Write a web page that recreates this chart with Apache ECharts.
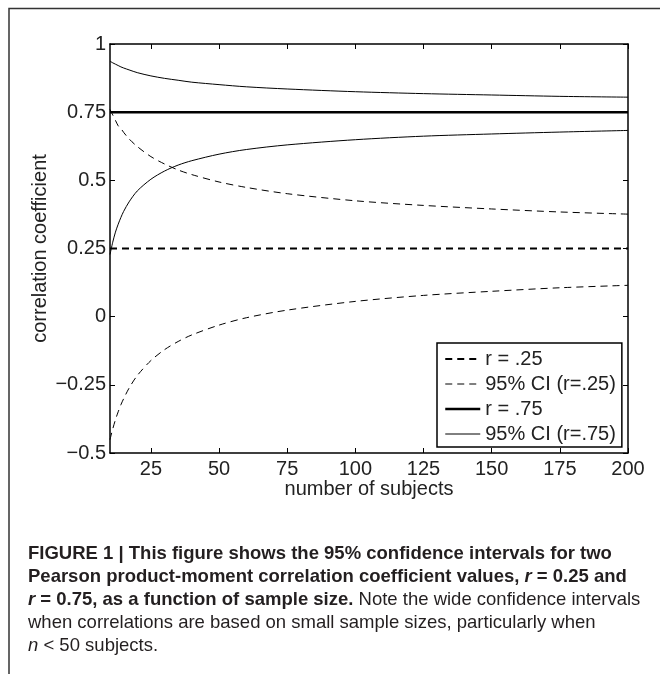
<!DOCTYPE html>
<html>
<head>
<meta charset="utf-8">
<script src="https://cdn.jsdelivr.net/npm/echarts@6/dist/echarts.min.js"></script>
<style>
  html, body { margin: 0; padding: 0; background: #fff; }
  #main { width: 660px; height: 674px; }
</style>
</head>
<body>
<div id="main"></div>
<script>
// number of subjects
var nSubjects = [10, 11, 12, 13, 14, 15, 17, 20, 25, 30, 35, 40, 50, 60, 75, 100, 125, 150, 175, 200];
// 95% CI bounds for r = .25
var ci25Upper = [0.76, 0.74, 0.72, 0.70, 0.69, 0.676, 0.652, 0.624, 0.587, 0.56, 0.538, 0.521, 0.494, 0.474, 0.451, 0.425, 0.408, 0.395, 0.384, 0.376];
var ci25Lower = [-0.451, -0.412, -0.378, -0.349, -0.323, -0.301, -0.262, -0.216, -0.161, -0.121, -0.091, -0.067, -0.031, -0.004, 0.024, 0.056, 0.078, 0.093, 0.106, 0.115];
// 95% CI bounds for r = .75
var ci75Upper = [0.937, 0.931, 0.926, 0.921, 0.916, 0.912, 0.905, 0.895, 0.883, 0.874, 0.867, 0.86, 0.851, 0.843, 0.835, 0.825, 0.818, 0.813, 0.808, 0.805];
var ci75Lower = [0.228, 0.273, 0.31, 0.339, 0.364, 0.386, 0.421, 0.461, 0.504, 0.534, 0.556, 0.572, 0.596, 0.613, 0.63, 0.649, 0.662, 0.67, 0.677, 0.683];
var rValues = [0.25, 0.75];
var xTicks = [25, 50, 75, 100, 125, 150, 175, 200];
var legendNames = ['r = .25', '95% CI (r=.25)', 'r = .75', '95% CI (r=.75)'];

function pairs(ys) {
    return nSubjects.map(function (n, i) { return [n, ys[i]]; });
}
function flat(r) {
    return [[nSubjects[0], r], [nSubjects[nSubjects.length - 1], r]];
}

var chart = echarts.init(document.getElementById('main'));

var fontFam = 'Liberation Sans, Arial, Helvetica, sans-serif';
var txt = '#222';
var capCol = '#231f20';
var capSize = 18.5;

var axisCommon = {
    type: 'value',
    axisLine: { show: true, onZero: false, lineStyle: { color: '#000', width: 1.5 } },
    splitLine: { show: false }
};

function capStyle(extra) {
    return Object.assign({ fontSize: capSize, fontFamily: fontFam, fill: capCol }, extra || {});
}
var capRich = {
    b: capStyle({ fontWeight: 'bold' }),
    bi: capStyle({ fontWeight: 'bold', fontStyle: 'italic' }),
    i: capStyle({ fontStyle: 'italic' }),
    n: capStyle()
};

option = {
    animation: false,
    backgroundColor: '#fff',
    color: ['#000'],
    textStyle: { fontFamily: fontFam },
    grid: { left: 110, top: 44, right: 32, bottom: 221 },
    legend: {
        data: legendNames,
        orient: 'vertical',
        left: 437,
        top: 343,
        itemWidth: 35,
        itemHeight: 14,
        itemGap: 5,
        padding: [6, 6, 3, 7],
        borderColor: '#000',
        borderWidth: 1.5,
        backgroundColor: '#fff',
        itemStyle: { opacity: 0 },
        lineStyle: { width: 'inherit' },
        textStyle: { fontSize: 20, color: txt, fontFamily: fontFam }
    },
    xAxis: [
        Object.assign({}, axisCommon, {
            min: 10, max: 200, position: 'bottom',
            axisTick: { inside: true, length: 5, customValues: xTicks, lineStyle: { color: '#000' } },
            axisLabel: { customValues: xTicks, fontSize: 20, color: txt, margin: 6 },
            name: 'number of subjects',
            nameLocation: 'middle',
            nameGap: 26,
            nameMoveOverlap: false,
            nameTextStyle: { fontSize: 20, color: txt }
        }),
        Object.assign({}, axisCommon, {
            min: 10, max: 200, position: 'top',
            axisTick: { inside: true, length: 5, customValues: xTicks, lineStyle: { color: '#000' } },
            axisLabel: { show: false }
        })
    ],
    yAxis: [
        Object.assign({}, axisCommon, {
            min: -0.5, max: 1, interval: 0.25, position: 'left',
            axisTick: { inside: true, length: 5, lineStyle: { color: '#000' } },
            axisLabel: {
                fontSize: 20, color: txt, margin: 4,
                formatter: function (v) { return String(v).replace('-', '\u2212'); }
            },
            name: 'correlation coefficient',
            nameLocation: 'middle',
            nameRotate: 90,
            nameGap: 60,
            nameMoveOverlap: false,
            nameTextStyle: { fontSize: 20, color: txt }
        }),
        Object.assign({}, axisCommon, {
            min: -0.5, max: 1, interval: 0.25, position: 'right',
            axisTick: { inside: true, length: 5, lineStyle: { color: '#000' } },
            axisLabel: { show: false }
        })
    ],
    series: [
        {
            name: legendNames[0], type: 'line', symbol: 'none', data: flat(rValues[0]),
            lineStyle: { color: '#000', width: 2.2, type: [7, 5] }, z: 3
        },
        {
            name: legendNames[1], type: 'line', symbol: 'none', smooth: 0.3, data: pairs(ci25Upper),
            lineStyle: { color: '#000', width: 1, type: [7, 5] }
        },
        {
            name: legendNames[1], type: 'line', symbol: 'none', smooth: 0.3, data: pairs(ci25Lower),
            lineStyle: { color: '#000', width: 1, type: [7, 5] }
        },
        {
            name: legendNames[2], type: 'line', symbol: 'none', data: flat(rValues[1]),
            lineStyle: { color: '#000', width: 2.5, type: 'solid' }, z: 3
        },
        {
            name: legendNames[3], type: 'line', symbol: 'none', smooth: 0.3, data: pairs(ci75Upper),
            lineStyle: { color: '#000', width: 1, type: 'solid' }
        },
        {
            name: legendNames[3], type: 'line', symbol: 'none', smooth: 0.3, data: pairs(ci75Lower),
            lineStyle: { color: '#000', width: 1, type: 'solid' }
        }
    ],
    graphic: [
        // figure frame (top and left edge)
        { type: 'polyline', shape: { points: [[9, 674], [9, 8.5], [660, 8.5]] }, style: { stroke: '#333', lineWidth: 1.5, fill: null }, silent: true },
        {
            type: 'group', left: 28, top: 544, silent: true,
            children: [
                { type: 'text', x: 0, y: 0, style: {
                    text: '{b|FIGURE 1 | This figure shows the 95% confidence intervals for two}', rich: capRich } },
                { type: 'text', x: 0, y: 23, style: {
                    text: '{b|Pearson product-moment correlation coefficient values, }{bi|r}{b| = 0.25 and}', rich: capRich } },
                { type: 'text', x: 0, y: 46, style: {
                    text: '{bi|r}{b| = 0.75, as a function of sample size.}{n| Note the wide confidence intervals}', rich: capRich } },
                { type: 'text', x: 0, y: 69, style: {
                    text: '{n|when correlations are based on small sample sizes, particularly when}', rich: capRich } },
                { type: 'text', x: 0, y: 92, style: {
                    text: '{i|n}{n| < 50 subjects.}', rich: capRich } }
            ]
        }
    ]
};

chart.setOption(option);
</script>
</body>
</html>
